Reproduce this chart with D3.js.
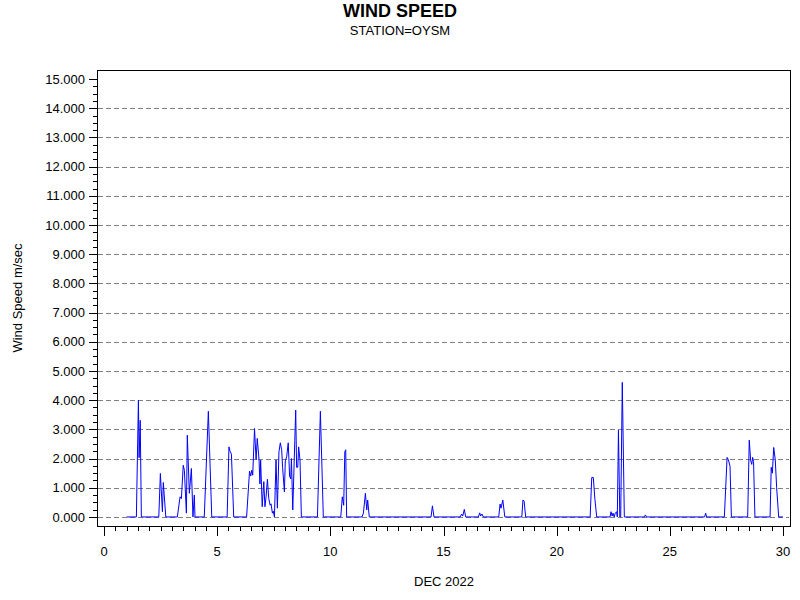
<!DOCTYPE html>
<html lang="en">
<head>
	<meta charset="UTF-8">
    <title>wind speed</title>
    <style type="text/css">
    	body { margin: 0; background: #fff; }
    	svg text { font-family: "Liberation Sans", Arial, sans-serif; fill: #000; }
    	.grid line { stroke: #808080; stroke-dasharray: 5,3; stroke-width: 1px; }
    </style>
</head>
<body>
<svg id="graph" width="800" height="600"></svg>

<script src="https://cdnjs.cloudflare.com/ajax/libs/d3/7.8.5/d3.min.js"></script>
<script>
	"use strict";

	// day of December (decimal) and wind speed
	var days = [1.0,1.43,1.52,1.55,1.60,1.65,2.42,2.49,2.58,2.62,2.73,
		3.24,3.36,3.42,3.50,3.55,3.64,3.68,3.77,3.86,3.93,3.99,4.02,
		4.43,4.61,4.76,5.44,5.52,5.57,5.63,5.73,
		6.30,6.43,6.48,6.53,6.57,6.65,6.72,6.77,6.85,6.89,6.92,6.99,7.06,7.11,7.16,7.22,7.28,7.34,7.38,7.44,7.48,7.53,
		7.60,7.66,7.73,7.79,7.85,7.89,7.97,8.01,8.07,8.14,8.20,8.25,8.28,8.34,8.43,8.47,8.51,8.56,8.60,8.66,8.72,
		9.43,9.56,9.69,10.46,10.53,10.59,10.64,10.68,10.72,
		11.40,11.46,11.55,11.61,11.65,11.72,
		14.45,14.51,14.58,15.74,15.80,15.85,15.92,15.98,16.54,16.60,16.64,16.70,16.76,
		17.44,17.50,17.54,17.62,17.71,18.46,18.51,18.56,18.63,
		21.48,21.55,21.62,21.69,21.77,
		22.36,22.40,22.45,22.49,22.54,22.59,22.65,22.68,22.73,22.79,22.83,22.90,22.99,
		23.88,23.92,23.97,26.54,26.58,26.63,
		27.41,27.53,27.59,27.66,27.72,
		28.44,28.51,28.57,28.62,28.66,28.70,28.76,
		29.43,29.48,29.53,29.59,29.66,29.72,29.81,30.0];
	var speed = [0,0,4.0,2.03,3.31,0,0,1.49,0.18,1.18,0,
		0,0.69,0.63,1.77,1.6,0.13,2.8,0.81,1.66,0,0.75,0,
		0,3.62,0,0,2.4,2.25,2.15,0,
		0,1.57,1.4,1.6,1.43,3.03,1.95,2.69,1.95,1.13,1.95,0.35,1.21,0.35,0.69,1.29,0.63,0.4,0.45,0.13,0.2,0,
		1.95,0.3,2.23,2.54,2.3,1.7,0.86,1.92,2.06,2.54,1.4,1.3,2.0,0.24,2.63,3.66,1.7,1.7,2.4,1.95,0,
		0,3.62,0,0,0.69,0.4,2.23,2.3,0,
		0,0.13,0.81,0.24,0.58,0,
		0,0.38,0,0,0.1,0.03,0.26,0,0,0.14,0.03,0.1,0,
		0,0.44,0.3,0.58,0,0,0.58,0.55,0,
		0,1.35,1.35,0.6,0,
		0,0.18,0.03,0.13,0,0.13,0.18,0,2.97,0,0,4.61,0,
		0,0.07,0,0,0.13,0,
		0,2.04,1.95,1.74,0,
		0,2.63,1.95,1.8,2.04,1.9,0,
		0,1.7,1.5,2.38,1.95,1.0,0,0];

	var yTicks = [0,1,2,3,4,5,6,7,8,9,10,11,12,13,14,15];
	var xTicks = [0,5,10,15,20,25,30];

	var pLeft = 97, pRight = 790, pTop = 70, pBottom = 526;
	var svg = d3.select("#graph");

	var x = d3.scaleLinear().domain([-0.31, 30.31]).range([pLeft, pRight]);
	var y = d3.scaleLinear().domain([-0.31, 15.31]).range([pBottom, pTop]);

	// grid
	svg.append("g").attr("class", "grid")
	  .selectAll("line")
	  .data(yTicks.filter(function(d){ return d < 15; }))
	  .enter()
	  .append("line")
	  .attr("x1", pLeft + 1).attr("x2", pRight - 1)
	  .attr("y1", function(d){ return Math.round(y(d)) + 0.5; })
	  .attr("y2", function(d){ return Math.round(y(d)) + 0.5; });

	// frame
	svg.append("rect")
	  .attr("x", pLeft + 0.5).attr("y", pTop + 0.5)
	  .attr("width", pRight - pLeft).attr("height", pBottom - pTop)
	  .attr("fill", "none").attr("stroke", "#000");

	// y axis
	var yMinor = d3.range(0, 15.01, 0.25);
	svg.append("g").selectAll("line")
	  .data(yMinor)
	  .enter()
	  .append("line")
	  .attr("x1", function(d){ return d % 1 === 0 ? pLeft - 8 : pLeft - 4; })
	  .attr("x2", pLeft)
	  .attr("y1", function(d){ return Math.round(y(d)) + 0.5; })
	  .attr("y2", function(d){ return Math.round(y(d)) + 0.5; })
	  .attr("stroke", "#000");
	svg.append("g").selectAll("text")
	  .data(yTicks)
	  .enter()
	  .append("text")
	  .attr("x", pLeft - 12)
	  .attr("y", function(d){ return y(d); })
	  .attr("dy", "0.35em")
	  .attr("text-anchor", "end")
	  .attr("font-size", 13)
	  .text(d3.format(".3f"));

	// x axis
	var xMinor = d3.range(0, 30.01, 0.5);
	svg.append("g").selectAll("line")
	  .data(xMinor)
	  .enter()
	  .append("line")
	  .attr("x1", function(d){ return Math.round(x(d)) + 0.5; })
	  .attr("x2", function(d){ return Math.round(x(d)) + 0.5; })
	  .attr("y1", pBottom + 1)
	  .attr("y2", function(d){ return d % 5 === 0 ? pBottom + 10 : pBottom + 5; })
	  .attr("stroke", "#000");
	svg.append("g").selectAll("text")
	  .data(xTicks)
	  .enter()
	  .append("text")
	  .attr("x", function(d){ return x(d); })
	  .attr("y", 556)
	  .attr("text-anchor", "middle")
	  .attr("font-size", 13)
	  .text(function(d){ return d; });

	// series
	var pts = days.map(function(d, i){ return [d, speed[i]]; });
	svg.append("path")
	  .datum(pts)
	  .attr("fill", "none")
	  .attr("stroke", "#0000ff")
	  .attr("stroke-width", 1)
	  .attr("d", d3.line().x(function(d){ return x(d[0]); }).y(function(d){ return y(d[1]); }));

	// titles
	svg.append("text").attr("x", 400).attr("y", 17).attr("text-anchor", "middle")
	  .attr("font-size", 18).attr("font-weight", "bold").text("WIND SPEED");
	svg.append("text").attr("x", 400).attr("y", 35).attr("text-anchor", "middle")
	  .attr("font-size", 13).text("STATION=OYSM");
	svg.append("text").attr("x", 444).attr("y", 586).attr("text-anchor", "middle")
	  .attr("font-size", 13).text("DEC 2022");
	svg.append("text")
	  .attr("transform", "translate(22," + ((pTop + pBottom) / 2) + ") rotate(-90)")
	  .attr("text-anchor", "middle")
	  .attr("font-size", 13).text("Wind Speed m/sec");
</script>
</body>
</html>
